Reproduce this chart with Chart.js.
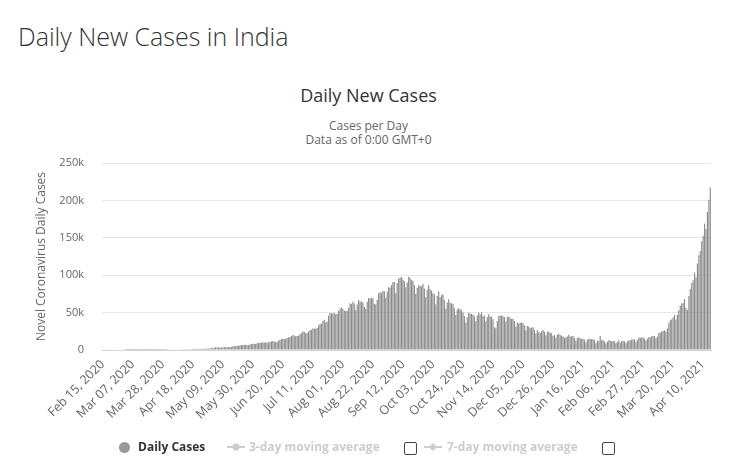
<!DOCTYPE html>
<html>
<head>
<meta charset="utf-8">
<script src="https://cdn.jsdelivr.net/npm/chart.js@4.4.1/dist/chart.umd.min.js"></script>
<style>
html,body{margin:0;padding:0;background:#fff;}
body{width:737px;height:472px;position:relative;overflow:hidden;font-family:"Open Sans",sans-serif;}
#c{position:absolute;left:0;top:0;}
.t{position:absolute;white-space:nowrap;}
#h{left:18px;top:19px;font-size:25px;line-height:34px;color:#333;font-weight:300;}
#ct{left:0;width:737px;text-align:center;top:83px;font-size:18px;line-height:24px;color:#333;}
#st{left:0;width:737px;text-align:center;top:119px;font-size:12px;line-height:14px;color:#666;}
.lg{position:absolute;top:439px;font-size:12px;line-height:16px;font-weight:bold;white-space:nowrap;}
.dot{position:absolute;left:119px;top:442px;width:11px;height:11px;border-radius:50%;background:#999;}
.cb{position:absolute;top:442px;width:11px;height:11px;border:1px solid #444;border-radius:2px;background:#fff;}
svg.sym{position:absolute;top:441px;}
</style>
</head>
<body>
<div id="h" class="t">Daily New Cases in India</div>
<div id="ct" class="t">Daily New Cases</div>
<div id="st" class="t">Cases per Day<br>Data as of 0:00 GMT+0</div>
<canvas id="c" width="737" height="472"></canvas>

<span class="dot"></span>
<span class="lg" style="left:138px;color:#333;">Daily Cases</span>
<svg class="sym" style="left:227px" width="18" height="12"><line x1="0" y1="6" x2="18" y2="6" stroke="#ccc" stroke-width="2"/><circle cx="9" cy="6" r="3.5" fill="#ccc"/></svg>
<span class="lg" style="left:249px;color:#ccc;">3-day moving average</span>
<span class="cb" style="left:404px"></span>
<svg class="sym" style="left:424px" width="18" height="12"><line x1="0" y1="6" x2="18" y2="6" stroke="#ccc" stroke-width="2"/><path d="M9 2 L13 6 L9 10 L5 6 Z" fill="#ccc"/></svg>
<span class="lg" style="left:447px;color:#ccc;">7-day moving average</span>
<span class="cb" style="left:602px"></span>

<script>
// ---- data (daily new cases) ----
const startDate = "2020-02-15";
const casesFeb2020 = [0,0,0,0,0,0,0,0,0,0,0,0,0,0,0];
const casesMar2020 = [0,2,1,22,1,1,3,5,9,12,8,11,14,19,12,25,15,23,36,55,80,72,69,103,86,75,88,75,92,227,146];
const casesApr2020 = [601,545,478,525,693,354,573,565,813,871,854,758,1243,1031,886,1061,922,1371,1580,1239,1537,1292,1667,1408,1835,1607,1561,1873,1738,1993];
const casesMay2020 = [2293,2644,2553,3900,2958,3561,3390,3320,3277,4213,3604,3525,3722,3967,3970,4987,5242,4970,5611,5609,6088,6654,6767,6977,6535,6387,6566,7466,7964,8380,8392];
const casesJun2020 = [8171,8909,9304,9851,9887,9971,9983,9987,9985,9996,10956,11458,11929,11502,10667,10974,12881,13586,14516,15413,14821,14933,15968,16922,17296,18552,19906,19459,18522,18653];
const casesJul2020 = [19148,20903,22771,24850,24248,22252,22752,24879,26506,27114,28637,28701,28498,29429,32695,34956,34884,38902,40425,37148,37724,45720,49310,48916,48661,49931,47704,48513,52123,55079,57118];
const casesAug2020 = [54735,52972,52050,52509,56282,62538,61537,64399,62064,53601,60963,66999,64553,65002,63490,57981,55079,64531,69652,68898,69878,69239,61408,60975,67151,75760,77266,76472,78761,78512,69921];
const casesSep2020 = [78357,83883,83341,86432,90632,90802,75809,89706,95735,96551,97570,94372,92071,83809,90123,97894,96424,93337,92605,86961,75083,83347,86508,86052,85362,88600,82170,70589,80472,86821];
const casesOct2020 = [81484,79476,75829,74442,61267,72049,78524,70496,73272,74383,66732,55342,63509,67708,63371,62212,61871,55722,46790,54044,55838,54366,53370,50129,45148,36470,43893,49881,48648,48268,46963];
const casesNov2020 = [45231,38310,46253,50209,47638,50356,45674,45903,38073,44281,47905,44878,44684,41100,30548,29163,38617,45576,45882,46232,45209,44059,37975,44376,44489,43082,41322,41810,38772,31118];
const casesDec2020 = [36604,35551,36595,36652,36011,32981,26567,32080,31521,29398,30006,30254,27071,22065,26382,24010,22890,25152,26624,24337,19556,23950,24712,23068,22273,18732,20021,16432,20550,21822,20035];
const casesJan2021 = [19078,18177,16504,16375,18088,20346,18139,18222,18645,16311,12584,15968,16946,15590,15158,15144,13788,10064,13823,15223,14545,14256,14849,13203,9102,12689,11666,18855,13083,13052,11427];
const casesFeb2021 = [8635,11039,12899,12408,11713,12059,11831,9110,11067,12923,9309,12143,12194,11649,9121,11610,12881,13193,13993,14264,14199,10584,13742,16738,16577,16488,16752,15510];
const casesMar2021 = [12286,14989,17407,16838,18327,18711,18599,15388,17921,22854,23285,24882,25320,26291,24492,28903,35871,39726,40953,43846,46951,40715,47262,53476,59118,62258,62714,68020,56211,53480,72330];
const casesApr2021 = [81466,89129,93249,103558,96982,115736,126789,131968,145384,152879,168912,161736,184372,200739,217353];

const dailyCases = [].concat(casesFeb2020, casesMar2020, casesApr2020, casesMay2020, casesJun2020,
  casesJul2020, casesAug2020, casesSep2020, casesOct2020, casesNov2020, casesDec2020,
  casesJan2021, casesFeb2021, casesMar2021, casesApr2021);

const xTickLabels = ["Feb 15, 2020","Mar 07, 2020","Mar 28, 2020","Apr 18, 2020","May 09, 2020",
  "May 30, 2020","Jun 20, 2020","Jul 11, 2020","Aug 01, 2020","Aug 22, 2020","Sep 12, 2020",
  "Oct 03, 2020","Oct 24, 2020","Nov 14, 2020","Dec 05, 2020","Dec 26, 2020","Jan 16, 2021",
  "Feb 06, 2021","Feb 27, 2021","Mar 20, 2021","Apr 10, 2021"];
const yTickLabels = ["0","50k","100k","150k","200k","250k"];

// category labels: one per day starting at startDate
const monthNames = ["Jan","Feb","Mar","Apr","May","Jun","Jul","Aug","Sep","Oct","Nov","Dec"];
const categories = [];
(function(){
  const d0 = new Date(startDate + "T00:00:00Z");
  for (let i = 0; i < dailyCases.length; i++) {
    const d = new Date(d0.getTime() + i * 86400000);
    const dd = String(d.getUTCDate()).padStart(2, "0");
    categories.push(monthNames[d.getUTCMonth()] + " " + dd + ", " + d.getUTCFullYear());
  }
})();
const xTickSet = new Set(xTickLabels);

const FONT = "'Open Sans', sans-serif";

new Chart(document.getElementById("c").getContext("2d"), {
  type: "bar",
  data: {
    labels: categories,
    datasets: [{
      label: "Daily Cases",
      data: dailyCases,
      backgroundColor: "#8c8c8c",
      borderWidth: 0,
      barPercentage: 0.8,
      categoryPercentage: 1.0
    }]
  },
  options: {
    responsive: false,
    animation: false,
    devicePixelRatio: 1,
    layout: { padding: { left: 0, right: 26, top: 163, bottom: 0 } },
    plugins: { legend: { display: false }, tooltip: { enabled: false }, title: { display: false } },
    scales: {
      x: {
        grid: { display: false, drawTicks: false },
        border: { display: true, color: "#ccd6eb", width: 1 },
        ticks: {
          autoSkip: false, minRotation: 45, maxRotation: 45, padding: 7,
          color: "#666", font: { family: FONT, size: 12.5 },
          callback: function(v, i) { return xTickSet.has(categories[i]) ? categories[i] : ""; }
        },
        afterFit: function(s) { s.height = 122; }
      },
      y: {
        min: 0, max: 250000,
        ticks: {
          stepSize: 50000, padding: 18, color: "#666", font: { family: FONT, size: 11 },
          callback: function(v) { return yTickLabels[Math.round(v / 50000)]; }
        },
        grid: { color: "#e6e6e6", drawTicks: false },
        border: { display: false },
        title: { display: true, text: "Novel Coronavirus Daily Cases", color: "#666",
                 font: { family: FONT, size: 12 }, padding: { top: 34, bottom: 0 } },
        afterFit: function(s) { s.width = 102; }
      }
    }
  }
});
</script>
</body>
</html>
